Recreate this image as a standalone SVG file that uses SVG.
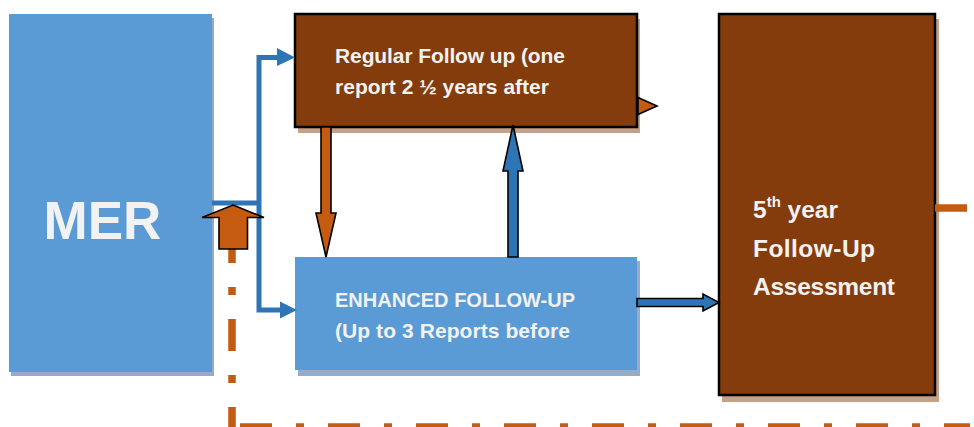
<svg xmlns="http://www.w3.org/2000/svg" width="974" height="427" viewBox="0 0 974 427">
<defs>
<style>
.blue{fill:#5b9bd5}
.brown{fill:#843c0c;stroke:#000;stroke-width:2.5}
.shb{fill:#97abc6}
.shr{fill:#c6a089}
.t{font-family:"Liberation Sans",Arial,sans-serif;font-weight:bold;fill:#f2f2f2}
.ln{fill:none;stroke:#2e75b6;stroke-width:5}
.bh{fill:#2e75b6}
.blk{stroke:#000;stroke-width:1.6;stroke-linejoin:miter}
.og{fill:#c55a11}
.bl{fill:#2e75b6}
.dash{fill:none;stroke:#c55a11;stroke-width:7.5;stroke-dasharray:32 24 8 24}
</style>
</defs>
<rect width="974" height="427" fill="#fff"/>
<g id="mer">
<rect class="shb" x="11" y="18" width="203" height="358"/>
<rect class="blue" x="9" y="14" width="203" height="358"/>
<text class="t" x="102.5" y="239" font-size="53" text-anchor="middle">MER</text>
</g>
<g id="regular">
<rect class="shr" x="298" y="19" width="342" height="114"/>
<rect class="brown" x="295" y="14" width="342" height="113"/>
<text class="t" font-size="21"><tspan x="335" y="63" textLength="230">Regular Follow up (one</tspan><tspan x="335" y="94" textLength="214">report 2 ½ years after</tspan></text>
</g>
<g id="enhanced">
<rect class="shb" x="298" y="261" width="342" height="115"/>
<rect class="blue" x="295" y="257" width="342" height="113"/>
<text class="t" font-size="21"><tspan x="335" y="307" font-size="20" textLength="240">ENHANCED FOLLOW-UP</tspan><tspan x="335" y="338" textLength="235">(Up to 3 Reports before</tspan></text>
</g>
<g id="fifth">
<rect class="shr" x="722" y="19" width="217" height="383"/>
<rect class="brown" x="719" y="14" width="216" height="381"/>
<text class="t" font-size="24.5"><tspan x="753" y="218">5</tspan><tspan font-size="15" dy="-11">th</tspan><tspan dy="11"> year</tspan><tspan x="753" y="257" textLength="122">Follow-Up</tspan><tspan x="753" y="295" textLength="142">Assessment</tspan></text>
</g>
<g id="connectors">
<path class="ln" d="M212 203 H261"/>
<path class="ln" d="M278 57.5 H259 V310 H281"/>
<polygon class="bh" points="277,48 295,57.5 277,66"/>
<polygon class="bh" points="280,301.5 297,310 280,318.5"/>
<path class="dash" d="M232 427 V249" stroke-dashoffset="12"/>
<path class="dash" d="M240 427 H970"/>
<path class="dash" d="M935 208 H968"/>
<polygon class="og blk" points="233,205 264,217.5 247.5,217.5 247.5,249 219,249 219,217.5 202,217.5"/>
<polygon class="og blk" points="321,127 331,127 331,213 336,213 326,257 316,213 321,213"/>
<polygon class="bl blk" points="513,125 523,171 518,171 518,257 508,257 508,171 503,171"/>
<polygon class="bl blk" points="637,298.5 703,298.5 703,294 719,302.5 703,311 703,306.5 637,306.5"/>
<polygon class="og blk" points="638,97.5 657,106 638,114.5"/>
</g>
</svg>
